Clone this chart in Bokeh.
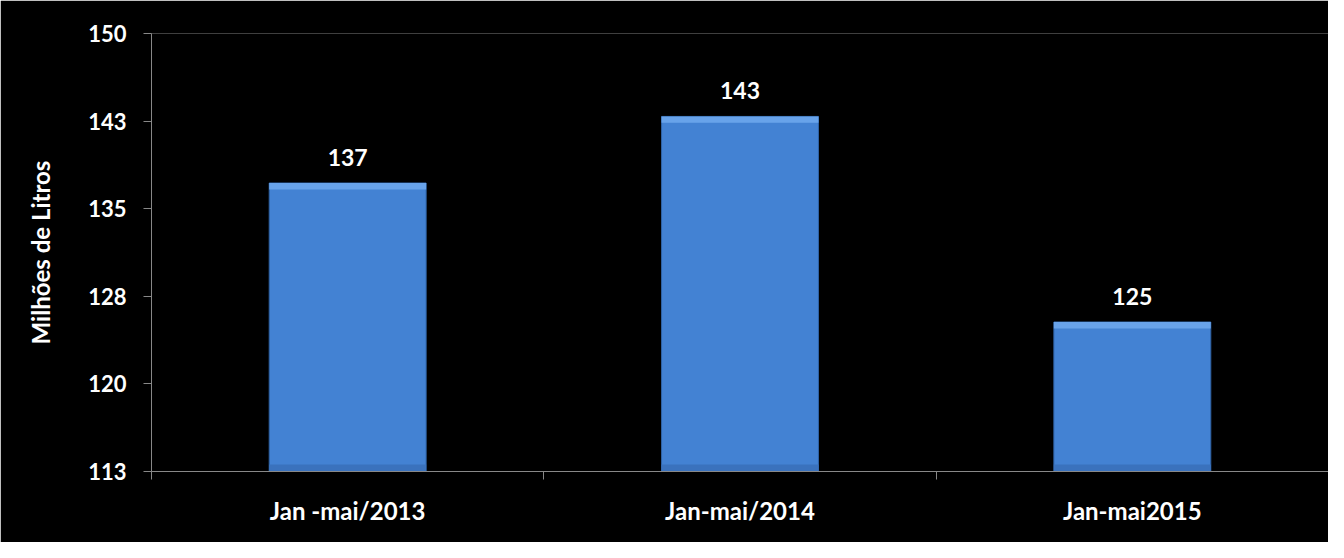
from bokeh.plotting import figure
from bokeh.models import ColumnDataSource, FixedTicker, Range1d
from bokeh.core.properties import value
from bokeh.embed import file_html
from bokeh.resources import INLINE

categories = ["Jan -mai/2013", "Jan-mai/2014", "Jan-mai2015"]
values = [137.2, 142.9, 125.3]
labels = ["137", "143", "125"]
y_ticks = [112.5, 120, 127.5, 135, 142.5, 150]
y_tick_labels = ["113", "120", "128", "135", "143", "150"]

FONT = "Lato"
BASE = 112.5
xs = [i + 0.5 for i in range(len(categories))]
src = ColumnDataSource(dict(x=xs, top=values, label=labels,
                            strip=[v - 0.55 for v in values],
                            shade=[BASE + 0.6 for _ in values]))

p = figure(width=1328, height=542, output_backend="svg", toolbar_location=None,
           x_range=Range1d(0, len(categories)), y_range=Range1d(BASE, 150),
           background_fill_color="black", border_fill_color="black",
           outline_line_color=None, min_border_left=151, min_border_right=0,
           min_border_top=33, min_border_bottom=71)
p.grid.visible = False

p.vbar(x="x", top="top", bottom=BASE, width=0.4, source=src,
       fill_color="#4382d3", line_color="#2f63a6", line_width=1)
# lighter bevel on the top edge, slightly darker band at the bottom
p.vbar(x="x", top="top", bottom="strip", width=0.4, source=src,
       fill_color="#68a3ea", line_color=None)
p.vbar(x="x", top="shade", bottom=BASE, width=0.4, source=src,
       fill_color="#3a72bd", line_color=None)
p.text(x="x", y="top", text="label", source=src, text_align="center",
       text_baseline="bottom", y_offset=-17, text_color="white",
       text_font=value(FONT), text_font_style="bold", text_font_size="23px")

ax = p.yaxis[0]
ax.ticker = FixedTicker(ticks=y_ticks)
ax.major_label_overrides = {t: l for t, l in zip(y_ticks, y_tick_labels)}
ax.axis_line_color = "#888888"
ax.major_tick_line_color = "#888888"
ax.major_tick_out = 8
ax.major_tick_in = 0
ax.minor_tick_line_color = None
ax.major_label_text_color = "white"
ax.major_label_text_font = FONT
ax.major_label_text_font_style = "bold"
ax.major_label_text_font_size = "22px"
ax.major_label_standoff = 17
ax.axis_label = "Milhões de Litros"
ax.axis_label_text_color = "white"
ax.axis_label_text_font = FONT
ax.axis_label_text_font_style = "bold"
ax.axis_label_text_font_size = "24px"
ax.axis_label_standoff = 30

bx = p.xaxis[0]
bx.ticker = FixedTicker(ticks=xs, minor_ticks=list(range(len(categories) + 1)))
bx.major_label_overrides = {x: c for x, c in zip(xs, categories)}
bx.axis_line_color = "#888888"
bx.major_tick_line_color = None
bx.major_tick_out = 0
bx.major_tick_in = 0
bx.minor_tick_line_color = "#888888"
bx.minor_tick_out = 8
bx.minor_tick_in = 0
bx.major_label_text_color = "white"
bx.major_label_text_font = FONT
bx.major_label_text_font_style = "bold"
bx.major_label_text_font_size = "24px"
bx.major_label_standoff = 16

open("out.html", "w").write(file_html(p, INLINE))
